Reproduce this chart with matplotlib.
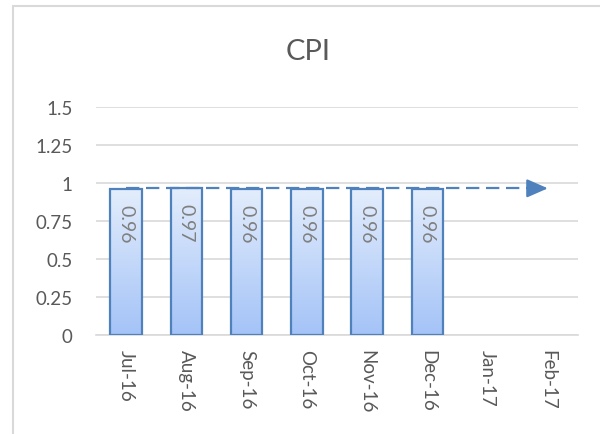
import matplotlib.pyplot as plt
import numpy as np
from matplotlib.colors import LinearSegmentedColormap

months = ["Jul-16", "Aug-16", "Sep-16", "Oct-16", "Nov-16", "Dec-16", "Jan-17", "Feb-17"]
cpi = [0.96, 0.97, 0.96, 0.96, 0.96, 0.96]
trend_start = 0.965
trend_end = 0.965

plt.rcParams["font.family"] = ["Lato", "DejaVu Sans"]

fig = plt.figure(figsize=(6.0, 4.35), dpi=100)
ax = fig.add_axes([0.16, 0.2276, 0.8033, 0.5241])

x = np.arange(len(months))
bars = ax.bar(x[:len(cpi)], cpi, width=0.52, color="none", edgecolor="#4f81bd",
              linewidth=1.6, zorder=3)

cmap = LinearSegmentedColormap.from_list("fill", ["#a4c3f7", "#e3edfc"])
grad = np.linspace(0, 1, 256).reshape(-1, 1)
for b in bars:
    x0, y0 = b.get_x(), b.get_y()
    im = ax.imshow(grad, cmap=cmap, aspect="auto", origin="lower",
                   extent=[x0, x0 + b.get_width(), y0, y0 + b.get_height()], zorder=2)
    im.set_clip_path(b)

for xi, v in zip(x, cpi):
    ax.text(xi, v - 0.1, f"{v:.2f}", rotation=270, ha="center", va="top",
            fontsize=14, color="#7f7f7f", zorder=4)

# dashed trend arrow, solid head
ax.plot([x[0], x[-1] - 0.15], [trend_start, trend_end], color="#4f81bd",
        linestyle=(0, (6, 3)), linewidth=1.6, zorder=5)
ax.annotate("", xy=(x[-1], trend_end), xytext=(x[-1] - 0.25, trend_end),
            arrowprops=dict(arrowstyle="-|>,head_length=0.8,head_width=0.35",
                            mutation_scale=16, color="#4f81bd", linewidth=1.6,
                            shrinkA=0, shrinkB=0), zorder=5)

ax.set_xlim(-0.5, len(months) - 0.5)
ax.set_ylim(0, 1.5)
ax.set_yticks([0, 0.25, 0.5, 0.75, 1, 1.25, 1.5])
ax.set_yticklabels(["0", "0.25", "0.5", "0.75", "1", "1.25", "1.5"])
ax.set_xticks(x)
ax.set_xticklabels(months, rotation=270)
ax.tick_params(axis="both", length=0, labelsize=13.5, labelcolor="#595959")
ax.tick_params(axis="y", pad=17)
ax.tick_params(axis="x", pad=10)
ax.grid(axis="y", color="#d9d9d9", linewidth=1.2, zorder=0)
for s in ["top", "right", "left"]:
    ax.spines[s].set_visible(False)
ax.spines["bottom"].set_color("#d9d9d9")
ax.spines["bottom"].set_linewidth(1.2)
ax.set_axisbelow(True)

fig.text(0.513, 0.88, "CPI", ha="center", va="center", fontsize=21, color="#595959")
fig.patches.append(plt.Rectangle((13 / 600, -0.05), 1.2, 1 - 7 / 435 + 0.05,
                                 transform=fig.transFigure, fill=False,
                                 edgecolor="#d9d9d9", linewidth=1.5))

fig.savefig("out.png")
